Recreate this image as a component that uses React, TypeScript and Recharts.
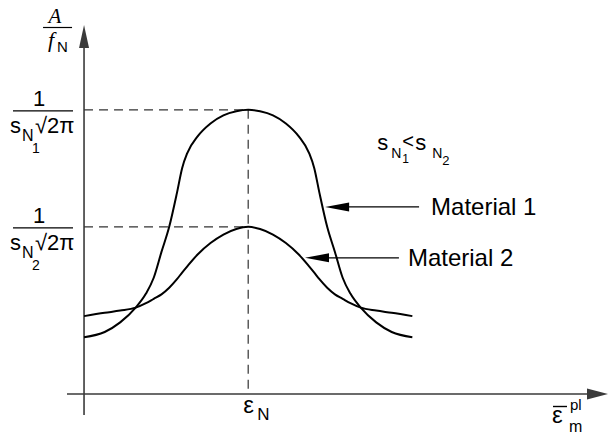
import React from 'react';
import { LineChart, Line, XAxis, YAxis, ReferenceLine, ReferenceDot } from 'recharts';

// plastic strain (arbitrary units), peak at the mean nucleation strain eps_N
const strain = [0, 4, 7, 10, 12, 13.5, 15, 16.5, 18, 19, 20, 22, 24.5, 27, 29.5, 31.8, 34.1, 36.6, 39.1, 41.6, 43.6, 44.6, 45.6, 47.1, 48.6, 50.1, 51.6, 53.6, 56.6, 59.6, 63.6];
const material1 = [15.4, 16.8, 19.4, 23.4, 27.2, 31.5, 38.5, 45.3, 54.5, 61.2, 65.3, 69.8, 73.3, 75.5, 76.6, 77.0, 76.6, 75.5, 73.3, 69.8, 65.3, 61.2, 54.5, 45.3, 38.5, 31.5, 27.2, 23.4, 19.4, 16.8, 15.4];
const material2 = [21.1, 22.0, 22.6, 23.4, 24.6, 25.8, 27.0, 28.8, 31.1, 32.9, 34.6, 37.8, 40.9, 43.2, 44.7, 45.3, 44.7, 43.2, 40.9, 37.8, 34.6, 32.9, 31.1, 28.8, 27.0, 25.8, 24.6, 23.4, 22.6, 22.0, 21.1];

const epsN = 31.8;
const peak1 = 77.0;
const peak2 = 45.3;
const yTicks = [peak2, peak1];
const yTickSubs = ['2', '1'];
const xTicks = [epsN];

const xDomain: [number, number] = [-3.3, 101.5];
const yDomain: [number, number] = [-5.7, 100];

// pointer annotations
const pointer1 = { from: 64.9, to: 46.7, y: 50.7, text: 'Material 1' };
const pointer2 = { from: 61.0, to: 42.8, y: 36.9, text: 'Material 2' };
const inequalityAt = { x: 56.8, y: 66.1 };

const data = strain.map((x, i) => ({ x, m1: material1[i], m2: material2[i] }));

const SANS = '"Liberation Sans", Arial, Helvetica, sans-serif';
const SERIF = '"Liberation Serif", "Times New Roman", serif';
const AXIS = '#3a3a3a';

const arrowShape = (head: number, half: number, color: string, width: number) => (props: any) => {
  const { x1, y1, x2, y2 } = props;
  const dx = x2 - x1;
  const dy = y2 - y1;
  const len = Math.hypot(dx, dy) || 1;
  const ux = dx / len;
  const uy = dy / len;
  const bx = x2 - ux * head;
  const by = y2 - uy * head;
  const px = -uy;
  const py = ux;
  return (
    <g>
      <line x1={x1} y1={y1} x2={bx + ux * 2} y2={by + uy * 2} stroke={color} strokeWidth={width} />
      <polygon
        points={`${x2},${y2} ${bx + px * half},${by + py * half} ${bx - px * half},${by - py * half}`}
        fill={color}
      />
    </g>
  );
};

const getVB = (p: any) => p.viewBox ?? p;

const FractionTick = (props: any) => {
  const { y, index } = props;
  const sub = yTickSubs[index] ?? '';
  return (
    <g fontFamily={SANS} fill="#000">
      <text x={39} y={y - 4} textAnchor="middle" fontSize={22}>1</text>
      <line x1={13} x2={73} y1={y + 1} y2={y + 1} stroke="#000" strokeWidth={1.3} />
      <text x={10} y={y + 23} fontSize={22}>s</text>
      <text x={22} y={y + 31} fontSize={16}>N</text>
      <text x={32} y={y + 43} fontSize={14}>{sub}</text>
      <text x={35} y={y + 23} fontSize={22}>√2π</text>
    </g>
  );
};

const EpsTick = (props: any) => {
  const { x } = props;
  return (
    <g fontFamily={SANS} fill="#000">
      <text x={x - 5} y={413} fontSize={24}>ε</text>
      <text x={x + 9} y={420} fontSize={17}>N</text>
    </g>
  );
};

const YTitle = (p: any) => {
  const vb = getVB(p);
  const x = vb.x;
  return (
    <g fill="#000">
      <text x={x - 29} y={23} textAnchor="middle" fontSize={21} fontFamily={SERIF} fontStyle="italic">A</text>
      <line x1={x - 41} x2={x - 12} y1={27.5} y2={27.5} stroke="#000" strokeWidth={1.2} />
      <text x={x - 33} y={47} textAnchor="middle" fontSize={22} fontFamily={SERIF} fontStyle="italic">f</text>
      <text x={x - 27} y={52} fontSize={15} fontFamily={SANS}>N</text>
    </g>
  );
};

const XTitle = () => (
  <g fill="#000" fontFamily={SANS}>
    <line x1={553} x2={567} y1={406.5} y2={406.5} stroke="#000" strokeWidth={1.4} />
    <text x={552} y={423} fontSize={24}>ε</text>
    <text x={570} y={410} fontSize={15}>pl</text>
    <text x={569} y={432} fontSize={16}>m</text>
  </g>
);

const pointerLabel = (text: string, gap: number) => (p: any) => {
  const vb = getVB(p);
  return (
    <text x={vb.x + vb.width + gap} y={vb.y + 8.5} fontSize={24} fontFamily={SANS} fill="#000">
      {text}
    </text>
  );
};

const InequalityLabel = (p: any) => {
  const vb = getVB(p);
  const x = vb.x + (vb.width || 0) / 2;
  const y = vb.y + (vb.height || 0) / 2;
  return (
    <g fontFamily={SANS} fill="#000">
      <text x={x} y={y} fontSize={22}>s</text>
      <text x={x + 14} y={y + 8} fontSize={14}>N</text>
      <text x={x + 25} y={y + 13} fontSize={12}>1</text>
      <text x={x + 25} y={y - 2} fontSize={20}>&lt;</text>
      <text x={x + 38} y={y} fontSize={22}>s</text>
      <text x={x + 55} y={y + 8} fontSize={14}>N</text>
      <text x={x + 65} y={y + 15} fontSize={13}>2</text>
    </g>
  );
};

export default function App() {
  return (
    <div style={{ position: 'absolute', left: 0, top: 0, width: 609, height: 437, background: '#fff' }}>
      <LineChart width={609} height={437} data={data} margin={{ top: 25, right: 1, bottom: 21, left: 66 }}>
        <XAxis
          dataKey="x"
          type="number"
          domain={xDomain}
          allowDataOverflow
          ticks={xTicks}
          interval={0}
          tick={<EpsTick />}
          axisLine={false}
          tickLine={false}
          height={1}
        />
        <YAxis
          type="number"
          domain={yDomain}
          allowDataOverflow
          ticks={yTicks}
          interval={0}
          tick={<FractionTick />}
          axisLine={false}
          tickLine={false}
          width={1}
        />
        {/* axes with arrows */}
        <ReferenceLine
          segment={[{ x: xDomain[0], y: 0 }, { x: xDomain[1], y: 0 }]}
          ifOverflow="visible"
          shape={arrowShape(21, 5.5, AXIS, 1.6)}
          label={XTitle}
        />
        <ReferenceLine
          segment={[{ x: 0, y: yDomain[0] }, { x: 0, y: yDomain[1] }]}
          ifOverflow="visible"
          shape={arrowShape(23, 5, AXIS, 1.6)}
          label={YTitle}
        />
        {/* dashed guides */}
        <ReferenceLine segment={[{ x: 0, y: peak1 }, { x: epsN, y: peak1 }]} ifOverflow="visible" stroke="#333" strokeWidth={1.2} strokeDasharray="9 6" />
        <ReferenceLine segment={[{ x: 0, y: peak2 }, { x: epsN, y: peak2 }]} ifOverflow="visible" stroke="#333" strokeWidth={1.2} strokeDasharray="9 6" />
        <ReferenceLine segment={[{ x: epsN, y: peak1 }, { x: epsN, y: 0 }]} ifOverflow="visible" stroke="#333" strokeWidth={1.2} strokeDasharray="9 6" />

        <Line dataKey="m1" type="monotone" stroke="#000" strokeWidth={2} dot={false} activeDot={false} isAnimationActive={false} />
        <Line dataKey="m2" type="monotone" stroke="#000" strokeWidth={2} dot={false} activeDot={false} isAnimationActive={false} />

        {/* pointers */}
        <ReferenceLine
          segment={[{ x: pointer1.from, y: pointer1.y }, { x: pointer1.to, y: pointer1.y }]}
          ifOverflow="visible"
          shape={arrowShape(24, 4.5, '#000', 1.3)}
          label={pointerLabel(pointer1.text, 12)}
        />
        <ReferenceLine
          segment={[{ x: pointer2.from, y: pointer2.y }, { x: pointer2.to, y: pointer2.y }]}
          ifOverflow="visible"
          shape={arrowShape(24, 4.5, '#000', 1.3)}
          label={pointerLabel(pointer2.text, 9)}
        />
        <ReferenceDot x={inequalityAt.x} y={inequalityAt.y} r={0} fill="none" stroke="none" ifOverflow="visible" label={InequalityLabel} />
      </LineChart>
    </div>
  );
}
